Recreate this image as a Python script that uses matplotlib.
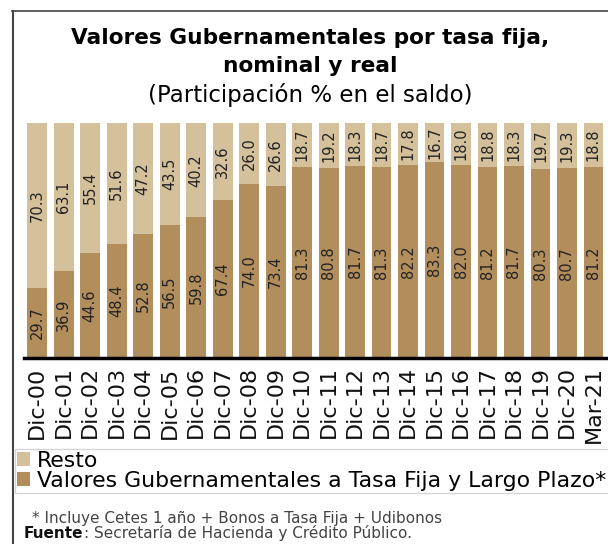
import matplotlib
matplotlib.use("Agg")
import matplotlib.pyplot as plt
from matplotlib.lines import Line2D
from matplotlib.patches import Patch
import numpy as np

categories = ["Dic-00", "Dic-01", "Dic-02", "Dic-03", "Dic-04", "Dic-05", "Dic-06", "Dic-07",
              "Dic-08", "Dic-09", "Dic-10", "Dic-11", "Dic-12", "Dic-13", "Dic-14", "Dic-15",
              "Dic-16", "Dic-17", "Dic-18", "Dic-19", "Dic-20", "Mar-21"]
fija = [29.7, 36.9, 44.6, 48.4, 52.8, 56.5, 59.8, 67.4, 74.0, 73.4, 81.3, 80.8, 81.7, 81.3,
        82.2, 83.3, 82.0, 81.2, 81.7, 80.3, 80.7, 81.2]
resto = [70.3, 63.1, 55.4, 51.6, 47.2, 43.5, 40.2, 32.6, 26.0, 26.6, 18.7, 19.2, 18.3, 18.7,
         17.8, 16.7, 18.0, 18.8, 18.3, 19.7, 19.3, 18.8]

c_dark = "#B38E5D"
c_light = "#D4C19C"

plt.rcParams['font.family'] = ['DejaVu Sans']
W, H = 608, 544
fig = plt.figure(figsize=(W / 100, H / 100), dpi=100)

ax = fig.add_axes([24 / W, 1 - 358 / H, 1 - 24 / W, (358 - 123) / H])
x = np.arange(len(categories))
b1 = ax.bar(x, fija, width=0.75, color=c_dark, label="Valores Gubernamentales a Tasa Fija y Largo Plazo*")
b2 = ax.bar(x, resto, width=0.75, bottom=fija, color=c_light, label="Resto")
ax.bar_label(b1, labels=[f"{v:.1f}" for v in fija], label_type='center', rotation=90,
             fontsize=10.5, color="#222222")
ax.bar_label(b2, labels=[f"{v:.1f}" for v in resto], label_type='center', rotation=90,
             fontsize=10.5, color="#222222")
ax.set_xlim(-0.5, 21.55)
ax.set_ylim(0, 100)
for s in ["top", "right", "left"]:
    ax.spines[s].set_visible(False)
ax.spines["bottom"].set_linewidth(2.5)
ax.spines["bottom"].set_color("black")
ax.set_yticks([])
ax.set_xticks(x)
ax.set_xticklabels(categories, rotation=90, fontsize=16, color="#111111")
ax.tick_params(axis='x', length=0, pad=6)

# Title
fig.text(0.51, 1 - 38 / H, "Valores Gubernamentales por tasa fija,", ha='center', va='center',
         fontsize=15.6, fontweight='bold')
fig.text(0.51, 1 - 66 / H, "nominal y real", ha='center', va='center',
         fontsize=15.6, fontweight='bold')
fig.text(0.51, 1 - 95 / H, "(Participación % en el saldo)", ha='center', va='center',
         fontsize=16.5)

# Legend
handles = [Patch(facecolor=c_light, edgecolor='none'), Patch(facecolor=c_dark, edgecolor='none')]
labels = ["Resto", "Valores Gubernamentales a Tasa Fija y Largo Plazo*"]
leg = fig.legend(handles, labels, loc='upper left',
                 bbox_to_anchor=(15 / W, 1 - 497 / H, 1.2, 48 / H), mode='expand',
                 fontsize=15.8, frameon=True, fancybox=False, handlelength=0.6,
                 handleheight=0.6, handletextpad=0.3, borderaxespad=0, borderpad=0.1,
                 labelspacing=0.0)
leg.get_frame().set_edgecolor("#cccccc")
leg.get_frame().set_linewidth(1)

# Footnotes
fig.text(32 / W, 1 - 519 / H, "* Incluye Cetes 1 año + Bonos a Tasa Fija + Udibonos",
         ha='left', va='center', fontsize=11, color="#444444")
t = fig.text(24 / W, 1 - 538 / H, "Fuente", ha='left', va='baseline', fontsize=11,
             fontweight='bold', color="#111111")
ax.annotate(": Secretaría de Hacienda y Crédito Público.", xy=(1, 0), xycoords=t,
            ha='left', va='bottom', fontsize=11, color="#444444", annotation_clip=False)

# Frame lines
fig.add_artist(Line2D([12.5 / W, 12.5 / W], [0, 1 - 11 / H], transform=fig.transFigure,
                      color="#444444", lw=1.5))
fig.add_artist(Line2D([12 / W, 1], [1 - 11 / H, 1 - 11 / H], transform=fig.transFigure,
                      color="#444444", lw=1.2))

fig.savefig("out.png", dpi=100)
